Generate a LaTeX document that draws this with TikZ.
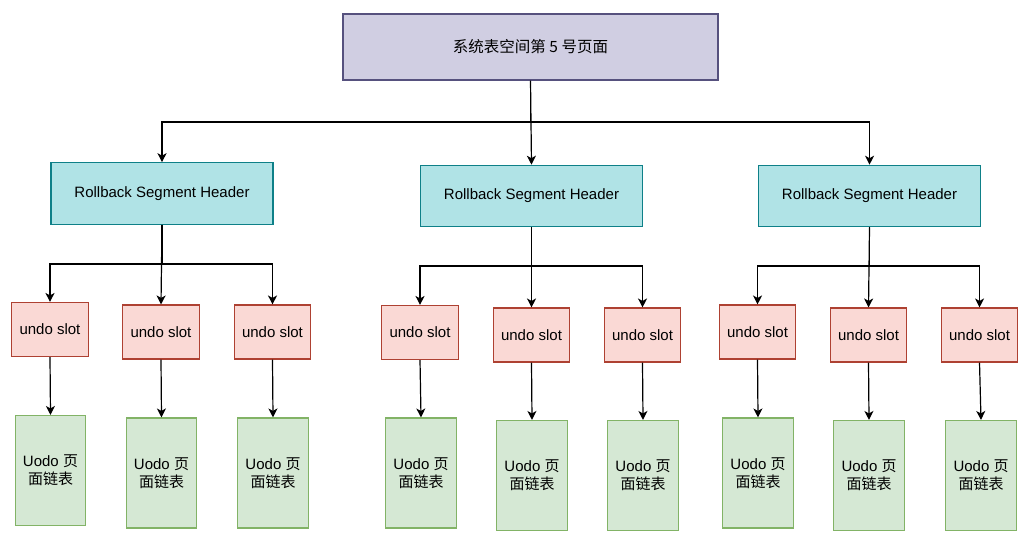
\documentclass[tikz,border=0pt]{standalone}
\usepackage{fontspec}
\setmainfont{Liberation Sans}
\newfontfamily\cjk{Noto Sans CJK SC}
\usetikzlibrary{arrows.meta}
\definecolor{topfill}{HTML}{D0CEE2}
\definecolor{topline}{HTML}{56517E}
\definecolor{hdfill}{HTML}{B0E3E6}
\definecolor{hdline}{HTML}{0E8088}
\definecolor{slfill}{HTML}{FAD9D5}
\definecolor{slline}{HTML}{AE4132}
\definecolor{pgfill}{HTML}{D5E8D4}
\definecolor{pgline}{HTML}{82B366}
\tikzset{
  box/.style={draw, line width=1.1pt, inner sep=0pt, align=center,
    font=\fontsize{15}{18}\selectfont},
  topbox/.style={box, fill=topfill, draw=topline, minimum width=375pt, minimum height=66pt},
  hdbox/.style={box, fill=hdfill, draw=hdline, minimum width=222pt, minimum height=61.5pt},
  slotbox/.style={box, fill=slfill, draw=slline, minimum width=76.5pt, minimum height=54pt},
  pagebox/.style={box, fill=pgfill, draw=pgline, minimum width=70.5pt, minimum height=110pt},
  arr/.style={line width=1.2pt, -{Stealth[length=9pt,width=9pt,inset=2.5pt]}}
}
\newcommand{\pagetext}{Uodo {\cjk 页}\\{\cjk 面链表}}
\begin{document}
\begin{tikzpicture}[x=1pt,y=-1pt]
\useasboundingbox (0,0) rectangle (1032,549);
\node[topbox] (top) at (530.5,47) {{\cjk\fontsize{15.5}{18}\selectfont 系统表空间第 5 号页面}};
\node[hdbox] (h1) at (162,193.5) {Rollback Segment Header};
\node[hdbox] (h2) at (531.5,196) {Rollback Segment Header};
\node[hdbox] (h3) at (869.5,196) {Rollback Segment Header};
% group 1
\node[slotbox] (s11) at (50,329.5) {undo slot};
\node[slotbox] (s12) at (161,332) {undo slot};
\node[slotbox] (s13) at (272.5,332) {undo slot};
\node[pagebox] (p11) at (50.5,470.5) {\pagetext};
\node[pagebox] (p12) at (161.5,473) {\pagetext};
\node[pagebox] (p13) at (273,473) {\pagetext};
% group 2
\node[slotbox] (s21) at (420,332.5) {undo slot};
\node[slotbox] (s22) at (531.5,335) {undo slot};
\node[slotbox] (s23) at (642.5,335) {undo slot};
\node[pagebox] (p21) at (421,473) {\pagetext};
\node[pagebox] (p22) at (532,475.5) {\pagetext};
\node[pagebox] (p23) at (643,475.5) {\pagetext};
% group 3
\node[slotbox] (s31) at (757.5,332) {undo slot};
\node[slotbox] (s32) at (868.5,335) {undo slot};
\node[slotbox] (s33) at (979.5,335) {undo slot};
\node[pagebox] (p31) at (758,473) {\pagetext};
\node[pagebox] (p32) at (869,475.5) {\pagetext};
\node[pagebox] (p33) at (981,475.5) {\pagetext};
% top connectors
\coordinate (b0) at (530.5,122);
\draw[arr] (top.south) -- (h2.north);
\draw[arr] (top.south) |- (b0) -| (h1.north);
\draw[arr] (top.south) |- (b0) -| (h3.north);
% group connectors
\coordinate (b1) at (162,264);
\coordinate (b2) at (531.5,266);
\coordinate (b3) at (869.5,266);
\foreach \g in {1,2,3}{
  \draw[arr] (h\g.south) |- (b\g) -| (s\g1.north);
  \draw[arr] (h\g.south) -- (s\g2.north);
  \draw[arr] (h\g.south) |- (b\g) -| (s\g3.north);
  \foreach \k in {1,2,3}{
    \draw[arr] (s\g\k.south) -- (p\g\k.north);
  }
}
\end{tikzpicture}
\end{document}
